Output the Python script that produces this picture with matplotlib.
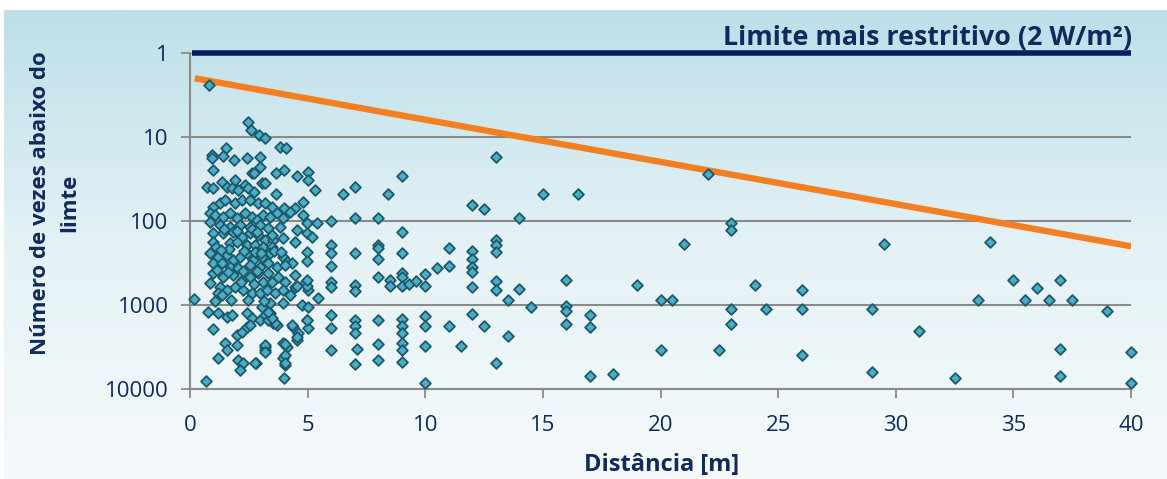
import numpy as np
import matplotlib
matplotlib.use('Agg')
import matplotlib.pyplot as plt
from matplotlib.colors import LinearSegmentedColormap
from matplotlib.ticker import FixedLocator, FixedFormatter, NullLocator

# ---- data (distance [m], times below the limit) ----
dense_x = [
    2.48, 2.59, 2.93, 3.19, 3.83, 4.08, 1.52,
    0.92, 0.92, 1.39, 1.87, 2.41, 2.98, 2.98,
    0.96, 2.62, 2.72, 3.66, 4.0, 4.56, 5.0,
    5.0, 3.05, 3.19, 5.31, 3.66, 0.71, 0.99, 1.35, 1.56, 1.77, 1.91, 2.05, 2.34, 2.48, 2.72,
    0.99, 1.28, 1.49, 1.91, 2.2, 2.55, 2.90, 3.19, 3.47, 4.0, 4.46, 4.79,
    0.85, 1.06, 1.42, 1.70, 1.98, 2.34, 2.62, 2.83, 3.12, 3.40, 3.68, 3.97, 4.25, 4.82, 4.96, 5.38,
    0.85, 1.28, 1.70, 2.13, 2.55, 2.98, 3.33, 3.83, 4.53,
    0.99, 1.42, 1.84, 2.20, 2.55, 2.90, 3.19, 3.54, 3.97, 4.46, 4.96, 5.17,
    0.99, 1.70, 1.98, 2.41, 2.76, 3.12, 3.47,
    0.85, 1.2, 1.56, 1.84, 2.13, 2.41, 2.69, 3.05, 3.40, 3.97, 4.11, 4.32,
    0.99, 1.35, 1.70, 2.05, 2.55, 2.98, 3.33, 3.68,
    0.99, 1.42, 1.84, 2.20, 2.55, 2.90, 3.12, 3.47, 3.75, 4.04, 4.46, 4.89, 5.03,
    0.85, 1.28, 1.56, 1.91, 2.27, 2.62, 2.98, 3.26, 3.61, 3.97, 4.25, 1.2, 1.35,
    0.17, 5.46,
    0.78, 1.2, 1.56, 1.77, 2.41, 2.62, 2.98, 3.19, 3.40, 3.54, 3.68, 3.97, 4.39, 4.60,
    4.96, 5.03, 0.99, 1.49, 1.98, 2.20, 2.41, 2.55, 3.33,
    1.98, 2.05, 2.27, 2.13, 2.81, 3.19, 3.19, 3.97, 4.11, 3.97, 4.04, 4.0, 4.53, 1.2,
    0.68, 1.56,
    4.96, 4.96, 4.04, 4.46, 4.53, 4.96, 4.96, 4.75, 5.03, 4.32, 4.96, 4.53, 4.04,
    3.19, 3.19, 4.04, 4.04, 2.76, 3.4, 3.61, 3.47, 3.33, 3.05, 0.82,
    1.1, 1.65, 2.3, 2.75, 3.55, 1.15, 1.6, 2.25, 2.85, 3.3, 1.05, 1.75, 2.45, 3.15,
    2.0, 2.65, 1.45, 2.85, 3.5, 2.15, 2.7, 1.3, 3.0, 3.85,
]
dense_y = [
    6.6, 8.3, 9.5, 10.4, 13.3, 13.6, 13.6,
    16.4, 18, 16.7, 18.8, 17.6, 17.1, 22.6,
    24.7, 27.1, 27.1, 27.1, 24.7, 28.9, 25.9,
    32.5, 35.6, 35.6, 42.8, 47.7, 39, 40.8, 34, 39, 40.8, 32.5, 42.8, 37.3, 40.8, 44.8,
    67.6, 61.7, 56, 61.7, 56, 56, 61.7, 61.7, 67.6, 70.7, 70.7, 58.9,
    81, 84.9, 88.8, 81, 93, 81, 88.8, 97.3, 84.9, 88.8, 81, 93, 77.4, 84.9, 107, 107,
    102, 112, 117, 112, 117, 112, 122, 117, 128,
    140, 140, 134, 154, 140, 147, 168, 168, 161, 176, 140, 154,
    176, 185, 176, 193, 193, 202, 202,
    243, 266, 254, 291, 266, 243, 291, 266, 243, 266, 305, 319,
    319, 319, 350, 366, 334, 350, 319, 350,
    420, 460, 440, 504, 460, 420, 527, 527, 460, 527, 605, 552, 663,
    552, 605, 663, 605, 663, 726, 726, 663, 726, 663, 760, 726, 760,
    856, 833,
    1200, 1256, 1377, 1315, 1256, 1442, 1510, 1315, 1256, 1652, 1730, 955, 1811, 2173,
    1510, 1896, 1950, 2860, 2275, 2076, 1811, 1730, 1510,
    2994, 4518, 4948, 5938, 4948, 3135, 3434, 2860, 3135, 4315, 5180, 7460, 2610, 4315,
    7950, 3434,
    234, 300, 330, 437, 600, 600, 500, 1000, 1047, 1738, 1514, 2400, 2884,
    3020, 3630, 3981, 4898, 4898, 955, 1660, 1445, 1200, 1047, 2.4,
    205, 215, 225, 235, 225, 380, 400, 390, 395, 420, 900, 870, 880, 890,
    130, 125, 125, 135, 145, 530, 560, 220, 240, 235,
]
sparse_x = [
    6, 6, 6, 6, 6, 6, 6, 6, 6, 6.5,
    7, 7, 7, 7, 7, 7, 7, 7, 7, 7.1,
    8, 8, 8, 8, 8, 8, 8, 8, 8.4, 8.5, 8.5,
    9, 9, 9, 9, 9, 9, 9, 9, 9, 9, 9, 9, 9.3, 9.6,
    10, 10, 10, 10, 10, 10, 10.5, 11, 11, 11, 11.5,
    12, 12, 12, 12, 12, 12, 12, 12.5, 12.5,
    13, 13, 13, 13, 13, 13, 13, 13.5, 13.5, 14, 14, 14.5, 15,
    16, 16, 16, 16, 16.5, 17, 17, 17, 18, 19, 20, 20, 20.5, 21, 22, 22.5,
    23, 23, 23, 23, 24, 24.5, 26, 26, 26, 29, 29, 29.5, 31, 32.5,
    33.5, 34, 35, 35.5, 36, 36.5, 37, 37, 37, 37.5, 39, 40, 40,
]
sparse_y = [
    194, 241, 340, 530, 615, 1320, 1860, 3470, 100, 48,
    39, 93, 240, 580, 690, 1510, 1770, 2140, 5000, 3340,
    93, 194, 210, 283, 460, 1510, 2900, 4500, 48, 505, 595,
    29, 134, 241, 420, 460, 595, 1480, 1780, 2140, 2810, 3470, 4800, 565, 515,
    430, 595, 1350, 1780, 3040, 8400, 365, 211, 345, 1780, 3040,
    65, 225, 283, 355, 400, 615, 1280, 71, 1780,
    17.2, 168, 194, 232, 515, 665, 4950, 870, 2320, 93, 650, 1050, 48,
    505, 1030, 1170, 1690, 48, 1320, 1810, 7000, 6650, 580, 870, 3440, 870, 188, 27.5, 3440,
    107, 128, 1120, 1690, 580, 1120, 665, 1120, 3950, 1120, 6200, 188, 2040, 7450,
    870, 180, 505, 870, 620, 870, 505, 3300, 7000, 870, 1175, 3630, 8400,
]
limit_x = [0.2, 40]
limit_y = [2.0, 200.0]
strict_x = [0.1, 40]
strict_y = [1, 1]
strict_label = 'Limite mais restritivo (2 W/m²)'
x_ticks = [0, 5, 10, 15, 20, 25, 30, 35, 40]
y_ticks = [1, 10, 100, 1000, 10000]
y_tick_labels = ['1', '10', '100', '1000', '10000']

navy = '#0f2a5c'
W, H = 1167, 479
plt.rcParams['font.family'] = ['Open Sans', 'DejaVu Sans']

fig = plt.figure(figsize=(W / 100, H / 100), dpi=100)
fig.patch.set_facecolor('white')

bg = fig.add_axes([4 / W, 0, 1 - 4 / W, 1 - 10 / H], zorder=-10)
grad = np.linspace(0, 1, 256).reshape(-1, 1)
cmap = LinearSegmentedColormap.from_list('bg', ['#f6fafc', '#e4f2f6', '#bddfe8'])
bg.imshow(grad, aspect='auto', cmap=cmap, origin='lower', extent=[0, 1, 0, 1])
bg.axis('off')

ax = fig.add_axes([190 / W, 1 - 389 / H, (1131 - 190) / W, (389 - 53) / H])
ax.patch.set_alpha(0)
ax.set_yscale('log')
ax.set_xlim(0, 40)
ax.set_ylim(10000, 1)

ax.yaxis.set_major_locator(FixedLocator(y_ticks))
ax.yaxis.set_major_formatter(FixedFormatter(y_tick_labels))
ax.yaxis.set_minor_locator(NullLocator())
ax.set_xticks(x_ticks)

for s in ['top', 'right']:
    ax.spines[s].set_visible(False)
for s in ['left', 'bottom']:
    ax.spines[s].set_color('#8a8a8a')
    ax.spines[s].set_linewidth(1.5)
ax.tick_params(axis='both', colors='#8a8a8a', length=6.5, width=1.3, labelcolor=navy, labelsize=16)
ax.tick_params(axis='x', pad=12)
ax.tick_params(axis='y', pad=9)
ax.yaxis.grid(True, color='#8a8a8a', linewidth=1.5)
ax.set_axisbelow(True)

ax.plot(limit_x, limit_y, color='#f47f20', linewidth=4.6, solid_capstyle='butt', zorder=3)
ax.plot(strict_x, strict_y, color='#002060', linewidth=4.0, solid_capstyle='butt', zorder=3, clip_on=False)

ax.scatter(dense_x + sparse_x, dense_y + sparse_y, marker='D', s=30, c='#4bacc6',
           edgecolors='#1d5868', linewidths=1.3, zorder=4, clip_on=False)

ax.annotate(strict_label, xy=(40, 1), xytext=(1, 6), textcoords='offset points',
            ha='right', va='baseline', fontsize=19.3, fontweight='bold', color=navy,
            annotation_clip=False)

ax.set_xlabel('Distância [m]', fontsize=17, fontweight='bold', color=navy)
ax.xaxis.label.set_verticalalignment('center')
ax.xaxis.set_label_coords(0.5016, -0.226)
ax.set_ylabel('Número de vezes abaixo do\nlimte', fontsize=16, fontweight='bold', color=navy,
              linespacing=1.55)
ax.yaxis.label.set_verticalalignment('center')
ax.yaxis.set_label_coords(-0.1435, 0.553)

fig.savefig('out.png', dpi=100)
